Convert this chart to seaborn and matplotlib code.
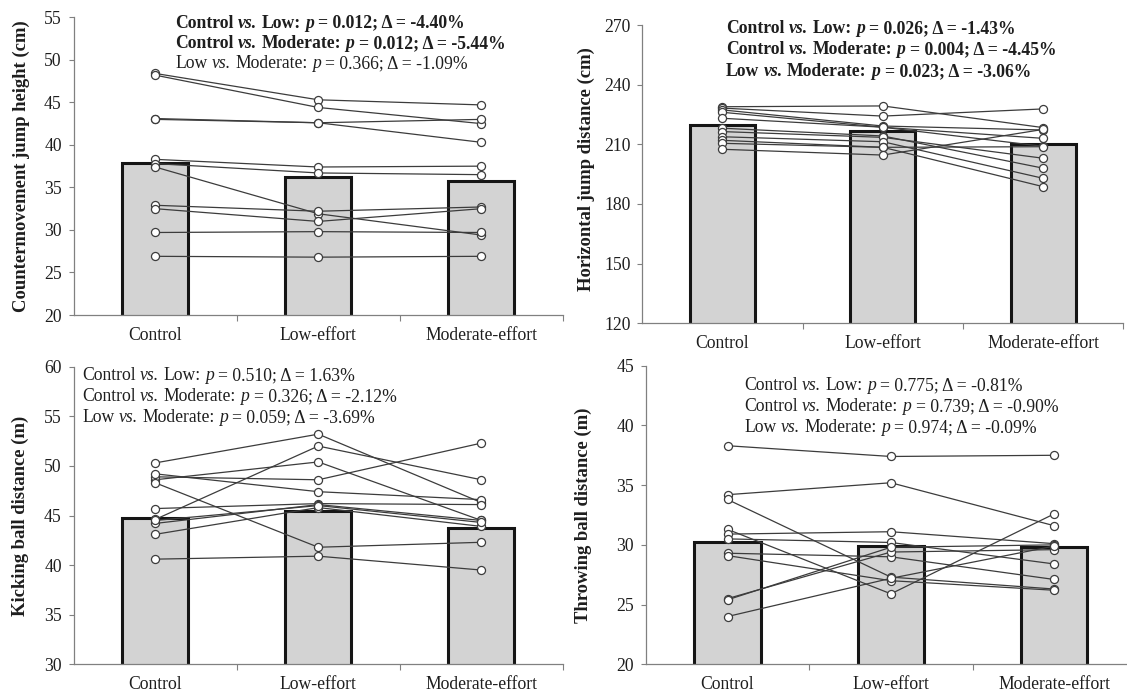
import numpy as np
import pandas as pd
import matplotlib
matplotlib.use("Agg")
import matplotlib.pyplot as plt
import seaborn as sns

# ---------------- data ----------------
conditions = ["Control", "Low-effort", "Moderate-effort"]

cmj_control = [48.4, 48.2, 43.1, 43.0, 38.3, 37.8, 37.4, 32.9, 32.5, 29.7, 26.9]
cmj_low     = [45.3, 44.4, 42.6, 42.6, 37.4, 36.7, 31.9, 32.2, 31.0, 29.8, 26.8]
cmj_mod     = [44.7, 42.5, 43.0, 40.3, 37.5, 36.5, 29.4, 32.7, 32.5, 29.7, 26.9]
cmj_bars    = [37.9, 36.2, 35.8]

hj_control = [228.9, 228.2, 227.3, 226.1, 223.1, 218.1, 216.4, 213.8, 212.0, 210.5, 207.5]
hj_low     = [229.3, 224.2, 219.2, 218.6, 218.6, 214.2, 213.5, 211.3, 208.5, 208.5, 204.6]
hj_mod     = [218.4, 227.8, 217.2, 209.0, 213.0, 198.0, 203.0, 192.9, 208.8, 188.7, 217.5]
hj_bars    = [219.7, 216.7, 210.0]

kick_control = [50.3, 44.6, 48.6, 48.9, 49.2, 45.7, 44.2, 43.1, 48.3, 40.6, 44.5]
kick_low     = [53.2, 52.0, 50.4, 48.6, 47.4, 46.2, 46.1, 45.8, 41.8, 40.9, 46.0]
kick_mod     = [46.3, 48.6, 44.5, 52.3, 46.6, 46.1, 44.5, 43.9, 42.3, 39.5, 44.3]
kick_bars    = [44.7, 45.5, 43.7]

throw_control = [38.3, 34.2, 33.8, 31.3, 30.9, 30.5, 29.3, 29.1, 25.5, 25.4, 24.0]
throw_low     = [37.4, 35.2, 27.3, 25.9, 31.1, 30.2, 29.0, 27.0, 29.4, 29.8, 27.2]
throw_mod     = [37.5, 31.6, 26.3, 32.6, 30.1, 28.4, 27.1, 26.2, 29.6, 30.0, 29.9]
throw_bars    = [30.2, 29.9, 29.85]

ylabels = ["Countermovement jump height (cm)", "Horizontal jump distance (cm)",
           "Kicking ball distance (m)", "Throwing ball distance (m)"]
yticks = [[20, 25, 30, 35, 40, 45, 50, 55],
          [120, 150, 180, 210, 240, 270],
          [30, 35, 40, 45, 50, 55, 60],
          [20, 25, 30, 35, 40, 45]]

# stats text: (comparison A, comparison B, p, delta, bold?)
stats_cmj = [("Control", "Low", "0.012", "-4.40", True),
             ("Control", "Moderate", "0.012", "-5.44", True),
             ("Low", "Moderate", "0.366", "-1.09", False)]
stats_hj = [("Control", "Low", "0.026", "-1.43", True),
            ("Control", "Moderate", "0.004", "-4.45", True),
            ("Low", "Moderate", "0.023", "-3.06", True)]
stats_kick = [("Control", "Low", "0.510", "1.63", False),
              ("Control", "Moderate", "0.326", "-2.12", False),
              ("Low", "Moderate", "0.059", "-3.69", False)]
stats_throw = [("Control", "Low", "0.775", "-0.81", False),
               ("Control", "Moderate", "0.739", "-0.90", False),
               ("Low", "Moderate", "0.974", "-0.09", False)]

# ---------------- style ----------------
sns.set_style("ticks")
SERIF = ["Liberation Serif", "DejaVu Serif"]
plt.rcParams["font.family"] = SERIF

W, H = 1127, 697
DPI = 100
fig = plt.figure(figsize=(W / DPI, H / DPI), dpi=DPI)

BAR_FILL = "#d3d3d3"
BAR_EDGE = "#151515"
LINE_C = "#3c3c3c"
SPINE_C = "#808080"
TXT_C = "#1e1e1e"

# axes rects in pixels: left, right, top(y of max), bottom(y of min)
rects = [(73.6, 563.0, 17.3, 315.0),
         (642.3, 1123.4, 25.0, 323.3),
         (73.6, 563.0, 366.7, 664.3),
         (645.8, 1136.0, 365.7, 664.3)]
ylabel_pos = [(21.4, 166.5), (586.0, 169.0), (20.4, 515.5), (583.5, 515.5)]
text_pos = [(175, [27.7, 48.0, 68.4]),
            (726, [33.0, 54.5, 76.0]),
            (82, [380.0, 401.0, 422.0]),
            (744, [390.0, 411.0, 432.0])]

panels = [
    (cmj_control, cmj_low, cmj_mod, cmj_bars, stats_cmj),
    (hj_control, hj_low, hj_mod, hj_bars, stats_hj),
    (kick_control, kick_low, kick_mod, kick_bars, stats_kick),
    (throw_control, throw_low, throw_mod, throw_bars, stats_throw),
]

TICK_FS = 12.7
ANN_FS = 12.7
YLAB_FS = 13.4
SPACE_PX = 0.25 * ANN_FS * DPI / 72.0   # Times-like space = 0.25 em

renderer = fig.canvas.get_renderer()


def rich_line(x_px, y_px, segments):
    x = x_px
    for txt, weight, style in segments:
        lead = len(txt) - len(txt.lstrip(" "))
        trail = len(txt) - len(txt.rstrip(" "))
        core = txt.strip(" ")
        x += lead * SPACE_PX
        if core:
            t = fig.text(x / W, 1 - y_px / H, core, fontsize=ANN_FS, weight=weight,
                         style=style, family=SERIF, ha="left", va="baseline", color=TXT_C)
            x += t.get_window_extent(renderer).width
        x += trail * SPACE_PX


for i, (c, l, m, bars, stats) in enumerate(panels):
    left, right, top, bottom = rects[i]
    ax = fig.add_axes([left / W, 1 - bottom / H, (right - left) / W, (bottom - top) / H])

    n = len(c)
    df = pd.DataFrame({
        "subject": list(range(n)) * 3,
        "condition": [conditions[0]] * n + [conditions[1]] * n + [conditions[2]] * n,
        "value": list(c) + list(l) + list(m),
    })
    bar_df = pd.DataFrame({"condition": conditions, "value": bars})

    sns.barplot(data=bar_df, x="condition", y="value", ax=ax, color=BAR_FILL,
                width=0.405, edgecolor=BAR_EDGE, linewidth=2.2, saturation=1, zorder=1)
    sns.lineplot(data=df, x="condition", y="value", units="subject", estimator=None,
                 ax=ax, color=LINE_C, linewidth=0.9, marker="o", markersize=5.8,
                 markerfacecolor="white", markeredgecolor=LINE_C, markeredgewidth=0.9,
                 zorder=3, legend=False)

    yt = yticks[i]
    ax.set_ylim(yt[0], yt[-1])
    ax.set_yticks(yt)
    ax.set_xlim(-0.5, 2.5)
    ax.set_xticks([0, 1, 2])
    ax.set_xticklabels(conditions)
    ax.set_xticks([0.5, 1.5, 2.5], minor=True)
    ax.tick_params(axis="x", which="major", length=0, pad=8.5, labelsize=TICK_FS, colors=TXT_C)
    ax.tick_params(axis="x", which="minor", length=4, width=0.8, color=SPINE_C, direction="out")
    ax.tick_params(axis="y", which="major", length=3.5, width=0.8, color=SPINE_C, pad=5,
                   labelsize=TICK_FS, labelcolor=TXT_C, direction="out")
    for s in ["top", "right"]:
        ax.spines[s].set_visible(False)
    for s in ["left", "bottom"]:
        ax.spines[s].set_color(SPINE_C)
        ax.spines[s].set_linewidth(0.9)
    ax.set_xlabel("")
    ax.set_ylabel(ylabels[i], fontsize=YLAB_FS, weight="bold", color=TXT_C)
    lx, ly = ylabel_pos[i]
    ax.yaxis.label.set_ha("center")
    ax.yaxis.label.set_va("center")
    ax.yaxis.set_label_coords((lx - left) / (right - left), (bottom - ly) / (bottom - top))
    ax.set_facecolor("none")

    tx, tys = text_pos[i]
    for (a, b, p, d, bold), ty in zip(stats, tys):
        w = "bold" if bold else "normal"
        segs = [(a + " ", w, "normal"), ("vs.", w, "italic"), (" " + b + ": ", w, "normal"),
                ("p", w, "italic"), (" = " + p + "; \u0394 = " + d + "%", w, "normal")]
        rich_line(tx, ty, segs)

fig.savefig("out.png", dpi=DPI, facecolor="white")
